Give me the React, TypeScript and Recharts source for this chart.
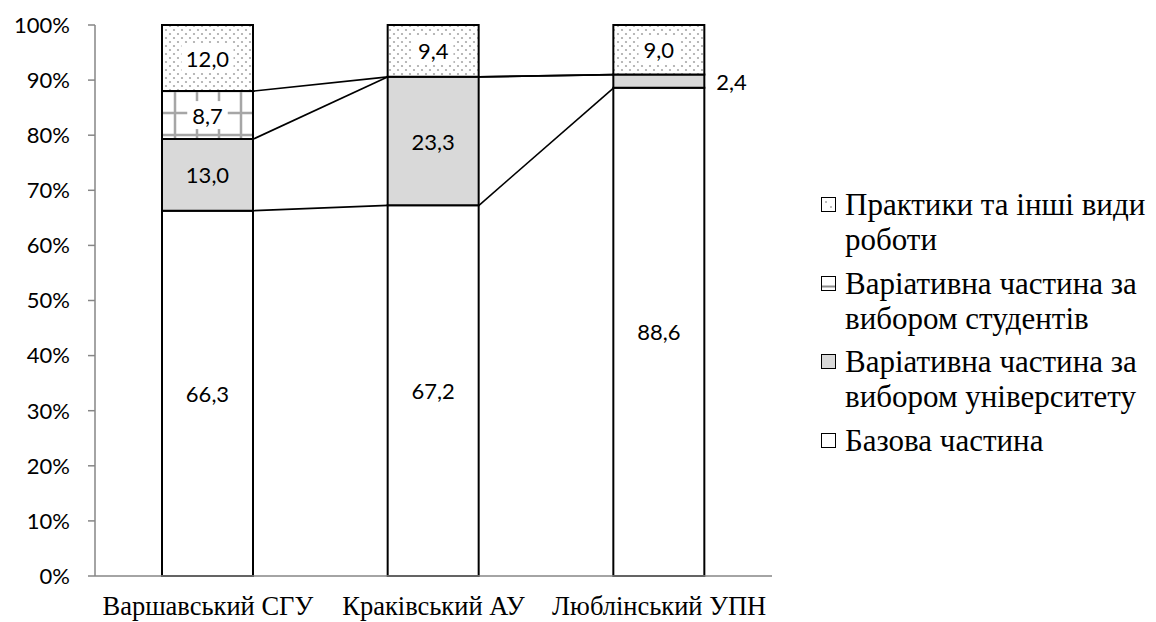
import React from 'react';
import { BarChart, Bar, XAxis, YAxis, LabelList, Legend, ReferenceLine } from 'recharts';

const universities = ['Варшавський СГУ', 'Краківський АУ', 'Люблінський УПН'];
const basePart = [66.3, 67.2, 88.6];
const universityChoice = [13.0, 23.3, 2.4];
const studentChoice = [8.7, 0, 0];
const practice = [12.0, 9.4, 9.0];
const yTicks = [0, 0.1, 0.2, 0.3, 0.4, 0.5, 0.6, 0.7, 0.8, 0.9, 1];
const edgeTicks = [0, 1, 2, 3];

const seriesKeys = ['base', 'uni', 'stud', 'prac'];
const seriesNames = [
  'Базова частина',
  'Варіативна частина за вибором університету',
  'Варіативна частина за вибором студентів',
  'Практики та інші види роботи',
];
const legendLines = [
  ['Базова частина'],
  ['Варіативна частина за', 'вибором університету'],
  ['Варіативна частина за', 'вибором студентів'],
  ['Практики та інші види', 'роботи'],
];
const seriesValues = [basePart, universityChoice, studentChoice, practice];

const data = universities.map((name, i) => {
  const row: Record<string, any> = { name };
  seriesKeys.forEach((k, s) => {
    row[k] = seriesValues[s][i];
  });
  return row;
});

const totals = universities.map((_, i) => seriesValues.reduce((a, arr) => a + arr[i], 0));

// series lines (connect the tops of the lower three series between neighbouring bars)
const seriesLineSegments: { key: string; seg: { x: string; y: number }[] }[] = [];
for (let s = 0; s < 3; s++) {
  const tops = universities.map((_, i) => {
    let c = 0;
    for (let t = 0; t <= s; t++) c += seriesValues[t][i];
    return c / totals[i];
  });
  for (let i = 0; i < universities.length - 1; i++) {
    seriesLineSegments.push({
      key: `sl-${s}-${i}`,
      seg: [
        { x: universities[i], y: tops[i] },
        { x: universities[i + 1], y: tops[i + 1] },
      ],
    });
  }
}

const BAR_SIZE = 91;
const AXIS_COLOR = '#868686';
const LABEL_FONT = 'Lato, "Open Sans", sans-serif';
const SERIF = '"Liberation Serif", "Times New Roman", serif';

const fills: Record<string, string> = {
  base: '#ffffff',
  uni: '#d9d9d9',
  stud: 'url(#gridPat)',
  prac: 'url(#dotPat)',
};

const fmt = (v: number) => v.toFixed(1).replace('.', ',');

const makeLabel = (boxed: boolean) => (props: any) => {
  const vb = props.viewBox && props.viewBox.width !== undefined ? props.viewBox : props;
  const x = Number(vb.x);
  const y0 = Number(vb.y);
  const w = Number(vb.width);
  const h0 = Number(vb.height);
  const top = h0 < 0 ? y0 + h0 : y0;
  const h = Math.abs(h0);
  const value = Number(props.value);
  if (!value) return null;
  const text = fmt(value);
  if (h < 22) {
    return (
      <text x={x + w + 12} y={top + h / 2} dominantBaseline="central" textAnchor="start"
        fontFamily={LABEL_FONT} fontSize={22} fill="#000">{text}</text>
    );
  }
  const cx = x + w / 2;
  const cy = top + h / 2;
  const tw = text.length * 11.5 + 6;
  return (
    <g>
      {boxed && <rect x={cx - tw / 2} y={cy - 14} width={tw} height={28} fill="#fff" />}
      <text x={cx} y={cy} dominantBaseline="central" textAnchor="middle"
        fontFamily={LABEL_FONT} fontSize={22} fill="#000">{text}</text>
    </g>
  );
};

const SeriesLine = (props: any) => {
  const { x1, y1, x2, y2 } = props;
  if ([x1, y1, x2, y2].some((v) => v === undefined || isNaN(Number(v)))) return null;
  return (
    <line x1={Number(x1) + BAR_SIZE / 2} y1={y1} x2={Number(x2) - BAR_SIZE / 2} y2={y2}
      stroke="#000" strokeWidth={1.6} />
  );
};

const LegendIcon = ({ k }: { k: string }) => {
  return (
    <svg width={15} height={15} style={{ position: 'absolute', left: 6, top: 10 }}>
      <rect x={0.5} y={0.5} width={14} height={14} fill={k === 'uni' ? '#d9d9d9' : '#fff'} stroke="#000" strokeWidth={1} />
      {k === 'prac' && (
        <g fill="#a6a6a6">
          <circle cx={5} cy={5} r={1} />
          <circle cx={10} cy={10} r={1} />
        </g>
      )}
      {k === 'stud' && <line x1={1} y1={10.5} x2={14} y2={10.5} stroke="#8c8c8c" strokeWidth={2} />}
    </svg>
  );
};

const renderLegend = () => {
  const order = [...seriesKeys].reverse();
  return (
    <div style={{ fontFamily: SERIF, fontSize: 31, color: '#000' }}>
      {order.map((k) => {
        const idx = seriesKeys.indexOf(k);
        return (
          <div key={k} style={{ position: 'relative', paddingLeft: 30, lineHeight: '35px', marginBottom: 8.5, whiteSpace: 'nowrap' }}>
            <LegendIcon k={k} />
            {legendLines[idx].map((l, j) => (
              <div key={j}>{l}</div>
            ))}
          </div>
        );
      })}
    </div>
  );
};

export default function App() {
  return (
    <BarChart
      width={1148}
      height={614}
      data={data}
      stackOffset="expand"
      barSize={BAR_SIZE}
      margin={{ top: 17, right: 384, bottom: 6, left: 7 }}
    >
      <defs>
        <pattern id="dotPat" width={8} height={8} patternUnits="userSpaceOnUse">
          <rect width={8} height={8} fill="#fff" />
          <circle cx={2} cy={2} r={1.1} fill="#a8a8a8" />
          <circle cx={6} cy={6} r={1.1} fill="#a8a8a8" />
        </pattern>
        <pattern id="gridPat" width={22} height={22} patternUnits="userSpaceOnUse">
          <rect width={22} height={22} fill="#fff" />
          <path d="M13 0V22M0 17H22" stroke="#a6a6a6" strokeWidth={2.5} />
        </pattern>
      </defs>
      <XAxis
        xAxisId="edge"
        type="number"
        domain={[0, 3]}
        allowDataOverflow
        ticks={edgeTicks}
        tick={false}
        tickLine={{ stroke: AXIS_COLOR, strokeWidth: 1.5 }}
        tickSize={7}
        axisLine={false}
        height={0}
      />
      <XAxis
        xAxisId="cat"
        dataKey="name"
        type="category"
        axisLine={{ stroke: AXIS_COLOR, strokeWidth: 1.5 }}
        tickLine={false}
        tickSize={0}
        tickMargin={20}
        height={40}
        tick={{ fill: '#000', fontSize: 26.5, fontFamily: SERIF }}
        interval={0}
      />
      <YAxis
        type="number"
        domain={[0, 1]}
        ticks={yTicks}
        width={80}
        tickFormatter={(v: number) => `${Math.round(v * 100)}%`}
        axisLine={{ stroke: AXIS_COLOR, strokeWidth: 1.5 }}
        tickLine={{ stroke: AXIS_COLOR, strokeWidth: 1.5 }}
        tickSize={7}
        tickMargin={18}
        tick={{ fill: '#000', fontSize: 22, fontFamily: LABEL_FONT }}
        interval={0}
      />
      {seriesKeys.map((k, s) => (
        <Bar
          key={k}
          dataKey={k}
          name={seriesNames[s]}
          stackId="a"
          xAxisId="cat"
          fill={fills[k]}
          stroke="#000"
          strokeWidth={2}
          isAnimationActive={false}
        >
          <LabelList dataKey={k} content={makeLabel(k === 'stud' || k === 'prac')} />
        </Bar>
      ))}
      {seriesLineSegments.map((sl) => (
        <ReferenceLine key={sl.key} xAxisId="cat" segment={sl.seg} ifOverflow="visible" shape={SeriesLine} />
      ))}
      <Legend
        layout="vertical"
        align="center"
        verticalAlign="middle"
        wrapperStyle={{ left: 807, top: 179, width: 341 }}
        content={renderLegend}
      />
    </BarChart>
  );
}
